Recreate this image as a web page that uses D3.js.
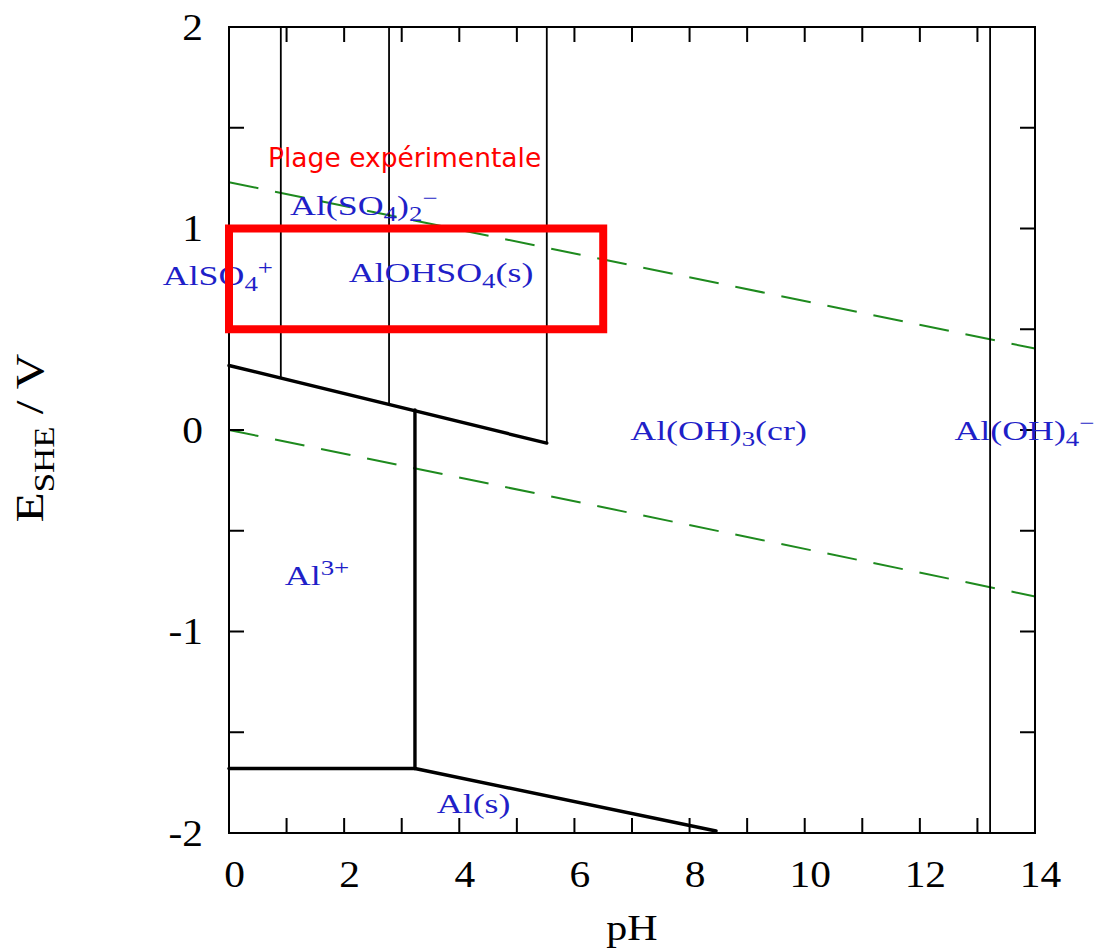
<!DOCTYPE html>
<html><head><meta charset="utf-8">
<script src="https://cdn.jsdelivr.net/npm/d3@7"></script>
<style>body{margin:0;background:#fff}</style>
</head><body>
<script>
// ---- data (pH, E in V) ----
const xTickLabels = [0, 2, 4, 6, 8, 10, 12, 14];
const yTickLabels = [-2, -1, 0, 1, 2];
const xMinorTicks = d3.range(0, 15, 1);
const yMinorTicks = d3.range(-2, 2.01, 0.5);
// thick boundaries [pH1, E1, pH2, E2]
const thickLines = [
  [0, -1.68, 3.23, -1.68],
  [3.23, -1.68, 8.46, -1.99],
  [3.23, -1.68, 3.23, 0.10],
  [0, 0.32, 5.52, -0.065]
];
// thin vertical boundaries [pH, Ebottom, Etop]
const thinLines = [
  [0.90, 0.26, 2],
  [2.78, 0.125, 2],
  [5.52, -0.065, 2],
  [13.22, -2, 2]
];
// water stability lines [pH1, E1, pH2, E2]
const waterLines = [
  [0, 1.23, 14, 0.404],
  [0, 0.0, 14, -0.826]
];
// experimental range
const rangeBox = {pH: [0, 6.5], E: [0.5, 1.0], label: "Plage expérimentale"};
// species labels
const species = [
  {pH: 1.06, E: 1.065, parts: [["Al(SO", ""], ["4", "sub"], [")", ""], ["2", "sub"], ["−", "sup"]]},
  {pH: -1.15, E: 0.72, parts: [["AlSO", ""], ["4", "sub"], ["+", "sup"]]},
  {pH: 2.08, E: 0.735, parts: [["AlOHSO", ""], ["4", "sub"], ["(s)", ""]]},
  {pH: 6.97, E: -0.05, parts: [["Al(OH)", ""], ["3", "sub"], ["(cr)", ""]]},
  {pH: 12.6, E: -0.05, parts: [["Al(OH)", ""], ["4", "sub"], ["−", "sup"]]},
  {pH: 0.97, E: -0.77, parts: [["Al", ""], ["3+", "sup"]]},
  {pH: 3.61, E: -1.9, parts: [["Al(s)", ""]]}
];

// ---- layout ----
const W = 1094, H = 952;
const M = {left: 229, top: 27, right: 1035, bottom: 833};
const x = d3.scaleLinear().domain([0, 14]).range([M.left, M.right]);
const y = d3.scaleLinear().domain([-2, 2]).range([M.bottom, M.top]);
const serif = "'Liberation Serif', 'Times New Roman', serif";
const STRETCH = 1.12;

const svg = d3.select("body").append("svg").attr("width", W).attr("height", H);

// water lines
svg.selectAll("line.water").data(waterLines).join("line")
  .attr("x1", d => x(d[0])).attr("y1", d => y(d[1]))
  .attr("x2", d => x(d[2])).attr("y2", d => y(d[3]))
  .attr("stroke", "#1e8a1e").attr("stroke-width", 2).attr("stroke-dasharray", "30,17");

// thin verticals
svg.selectAll("line.thin").data(thinLines).join("line")
  .attr("x1", d => x(d[0])).attr("x2", d => x(d[0]))
  .attr("y1", d => y(d[1])).attr("y2", d => y(d[2]))
  .attr("stroke", "#000").attr("stroke-width", 1.8);

// thick boundaries
svg.selectAll("line.thick").data(thickLines).join("line")
  .attr("x1", d => x(d[0])).attr("y1", d => y(d[1]))
  .attr("x2", d => x(d[2])).attr("y2", d => y(d[3]))
  .attr("stroke", "#000").attr("stroke-width", 3.4).attr("stroke-linecap", "round");

// frame
svg.append("rect").attr("x", M.left).attr("y", M.top)
  .attr("width", M.right - M.left).attr("height", M.bottom - M.top)
  .attr("fill", "none").attr("stroke", "#000").attr("stroke-width", 2);

// inner ticks
const tl = 15;
xMinorTicks.forEach(v => {
  svg.append("line").attr("x1", x(v)).attr("x2", x(v)).attr("y1", M.bottom).attr("y2", M.bottom - tl).attr("stroke", "#000").attr("stroke-width", 2);
  svg.append("line").attr("x1", x(v)).attr("x2", x(v)).attr("y1", M.top).attr("y2", M.top + tl).attr("stroke", "#000").attr("stroke-width", 2);
});
yMinorTicks.forEach(v => {
  svg.append("line").attr("y1", y(v)).attr("y2", y(v)).attr("x1", M.left).attr("x2", M.left + tl).attr("stroke", "#000").attr("stroke-width", 2);
  svg.append("line").attr("y1", y(v)).attr("y2", y(v)).attr("x1", M.right).attr("x2", M.right - tl).attr("stroke", "#000").attr("stroke-width", 2);
});

// tick labels via axes
const xAxis = svg.append("g").attr("transform", `translate(5,${M.bottom})`)
  .call(d3.axisBottom(x).tickValues(xTickLabels).tickSize(0).tickPadding(0).tickFormat(d => String(d)));
const yAxis = svg.append("g").attr("transform", `translate(${M.left},0)`)
  .call(d3.axisLeft(y).tickValues(yTickLabels).tickSize(0).tickPadding(0).tickFormat(d => String(d)));
[xAxis, yAxis].forEach(a => {
  a.select(".domain").remove();
  a.selectAll("text").attr("font-family", serif).attr("font-size", 37).attr("fill", "#000");
});
xAxis.selectAll("text").attr("y", 0).attr("dy", 0)
  .attr("transform", `translate(0,54) scale(${STRETCH},1)`);
yAxis.selectAll("text").attr("x", 0).attr("dy", "0.33em")
  .attr("transform", `translate(-26,0) scale(${STRETCH},1)`);

// axis titles
svg.append("text").attr("transform", `translate(${x(7)},940) scale(1.2,1)`).attr("text-anchor", "middle")
  .attr("font-family", serif).attr("font-size", 35).text("pH");
const yt = svg.append("text").attr("transform", `translate(43,438) rotate(-90) scale(1.45,1.2)`)
  .attr("text-anchor", "middle").attr("font-family", serif).attr("font-size", 34);
yt.append("tspan").text("E");
yt.append("tspan").attr("font-size", 24).attr("dy", 9).text("SHE");
yt.append("tspan").attr("dy", -9).text(" / V");

// species labels
species.forEach(s => {
  const t = svg.append("text")
    .attr("transform", `translate(${x(s.pH)},${y(s.E)}) scale(1.28,1)`)
    .attr("font-family", serif).attr("font-size", 28).attr("fill", "#1f1fc8");
  let cur = 0;
  s.parts.forEach(([txt, kind]) => {
    const off = kind === "sub" ? 6 : kind === "sup" ? -10 : 0;
    t.append("tspan").attr("dy", off - cur).attr("font-size", kind ? 21 : 28).text(txt);
    cur = off;
  });
});

// experimental range box
svg.append("rect").attr("x", x(rangeBox.pH[0])).attr("y", y(rangeBox.E[1]))
  .attr("width", x(rangeBox.pH[1]) - x(rangeBox.pH[0]))
  .attr("height", y(rangeBox.E[0]) - y(rangeBox.E[1]))
  .attr("fill", "none").attr("stroke", "#ff0000").attr("stroke-width", 8);
svg.append("text").attr("x", 268).attr("y", 167)
  .attr("font-family", "'DejaVu Sans', sans-serif").attr("font-size", 26.5).attr("fill", "#ff0000")
  .text(rangeBox.label);
</script>
</body></html>
